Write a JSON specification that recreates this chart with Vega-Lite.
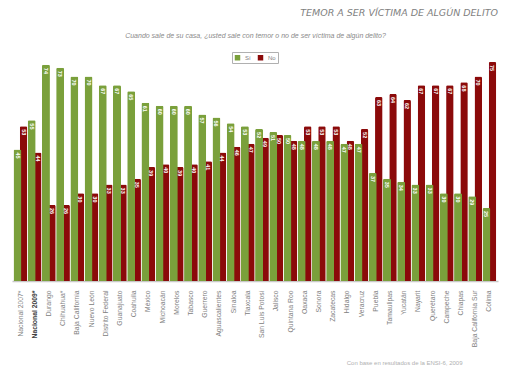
{
  "$schema": "https://vega.github.io/schema/vega-lite/v6.json",
  "autosize": {"type": "none"},
  "width": 486,
  "height": 222,
  "padding": {"left": 12, "top": 59, "right": 12, "bottom": 101},
  "background": "white",
  "title": {
    "text": "TEMOR A SER VÍCTIMA DE ALGÚN DELITO",
    "anchor": "end",
    "fontSize": 9.5,
    "fontStyle": "italic",
    "fontWeight": "normal",
    "font": "DejaVu Sans",
    "color": "#7f7f7f",
    "offset": 14
  },
  "config": {
    "view": {"stroke": null},
    "font": "Liberation Sans"
  },
  "data": {
    "values": [
      {"estado": "Nacional 2007*", "serie": "Sí", "valor": 45}, {"estado": "Nacional 2007*", "serie": "No", "valor": 53},
      {"estado": "Nacional 2009*", "serie": "Sí", "valor": 55}, {"estado": "Nacional 2009*", "serie": "No", "valor": 44},
      {"estado": "Durango", "serie": "Sí", "valor": 74}, {"estado": "Durango", "serie": "No", "valor": 26},
      {"estado": "Chihuahua*", "serie": "Sí", "valor": 73}, {"estado": "Chihuahua*", "serie": "No", "valor": 26},
      {"estado": "Baja California", "serie": "Sí", "valor": 70}, {"estado": "Baja California", "serie": "No", "valor": 30},
      {"estado": "Nuevo León", "serie": "Sí", "valor": 70}, {"estado": "Nuevo León", "serie": "No", "valor": 30},
      {"estado": "Distrito Federal", "serie": "Sí", "valor": 67}, {"estado": "Distrito Federal", "serie": "No", "valor": 33},
      {"estado": "Guanajuato", "serie": "Sí", "valor": 67}, {"estado": "Guanajuato", "serie": "No", "valor": 33},
      {"estado": "Coahuila", "serie": "Sí", "valor": 65}, {"estado": "Coahuila", "serie": "No", "valor": 35},
      {"estado": "México", "serie": "Sí", "valor": 61}, {"estado": "México", "serie": "No", "valor": 39},
      {"estado": "Michoacán", "serie": "Sí", "valor": 60}, {"estado": "Michoacán", "serie": "No", "valor": 40},
      {"estado": "Morelos", "serie": "Sí", "valor": 60}, {"estado": "Morelos", "serie": "No", "valor": 39},
      {"estado": "Tabasco", "serie": "Sí", "valor": 60}, {"estado": "Tabasco", "serie": "No", "valor": 40},
      {"estado": "Guerrero", "serie": "Sí", "valor": 57}, {"estado": "Guerrero", "serie": "No", "valor": 41},
      {"estado": "Aguascalientes", "serie": "Sí", "valor": 56}, {"estado": "Aguascalientes", "serie": "No", "valor": 44},
      {"estado": "Sinaloa", "serie": "Sí", "valor": 54}, {"estado": "Sinaloa", "serie": "No", "valor": 46},
      {"estado": "Tlaxcala", "serie": "Sí", "valor": 53}, {"estado": "Tlaxcala", "serie": "No", "valor": 47},
      {"estado": "San Luis Potosí", "serie": "Sí", "valor": 52}, {"estado": "San Luis Potosí", "serie": "No", "valor": 49},
      {"estado": "Jalisco", "serie": "Sí", "valor": 51}, {"estado": "Jalisco", "serie": "No", "valor": 50},
      {"estado": "Quintana Roo", "serie": "Sí", "valor": 50}, {"estado": "Quintana Roo", "serie": "No", "valor": 48},
      {"estado": "Oaxaca", "serie": "Sí", "valor": 48}, {"estado": "Oaxaca", "serie": "No", "valor": 53},
      {"estado": "Sonora", "serie": "Sí", "valor": 48}, {"estado": "Sonora", "serie": "No", "valor": 53},
      {"estado": "Zacatecas", "serie": "Sí", "valor": 48}, {"estado": "Zacatecas", "serie": "No", "valor": 53},
      {"estado": "Hidalgo", "serie": "Sí", "valor": 47}, {"estado": "Hidalgo", "serie": "No", "valor": 48},
      {"estado": "Veracruz", "serie": "Sí", "valor": 47}, {"estado": "Veracruz", "serie": "No", "valor": 52},
      {"estado": "Puebla", "serie": "Sí", "valor": 37}, {"estado": "Puebla", "serie": "No", "valor": 63},
      {"estado": "Tamaulipas", "serie": "Sí", "valor": 35}, {"estado": "Tamaulipas", "serie": "No", "valor": 64},
      {"estado": "Yucatán", "serie": "Sí", "valor": 34}, {"estado": "Yucatán", "serie": "No", "valor": 62},
      {"estado": "Nayarit", "serie": "Sí", "valor": 33}, {"estado": "Nayarit", "serie": "No", "valor": 67},
      {"estado": "Querétaro", "serie": "Sí", "valor": 33}, {"estado": "Querétaro", "serie": "No", "valor": 67},
      {"estado": "Campeche", "serie": "Sí", "valor": 30}, {"estado": "Campeche", "serie": "No", "valor": 67},
      {"estado": "Chiapas", "serie": "Sí", "valor": 30}, {"estado": "Chiapas", "serie": "No", "valor": 68},
      {"estado": "Baja California Sur", "serie": "Sí", "valor": 29}, {"estado": "Baja California Sur", "serie": "No", "valor": 70},
      {"estado": "Colima", "serie": "Sí", "valor": 25}, {"estado": "Colima", "serie": "No", "valor": 75}
    ]
  },
  "encoding": {
    "x": {
      "field": "estado",
      "type": "nominal",
      "sort": null,
      "scale": {"paddingInner": 0, "paddingOuter": 0.1},
      "axis": {
        "title": "Con base en resultados de la ENSI-6, 2009",
        "titleFontSize": 6,
        "titleFontWeight": "normal",
        "titleColor": "#b0b0b0",
        "titleAlign": "right",
        "titleX": 450,
        "titleY": 78,
        "labelAngle": -90,
        "labelFontSize": 6.8,
        "labelColor": {"condition": {"test": "datum.value == 'Nacional 2009*'", "value": "#404040"}, "value": "#808080"},
        "labelFontWeight": {"condition": {"test": "datum.value == 'Nacional 2009*'", "value": "bold"}, "value": "normal"},
        "labelPadding": 9,
        "ticks": false,
        "domainColor": "#c8c8c8",
        "domainWidth": 1.5
      }
    },
    "y": {
      "field": "valor",
      "type": "quantitative",
      "scale": {"domain": [0, 76], "nice": false},
      "axis": {
        "title": "Cuando sale de su casa, ¿usted sale con temor o no de ser víctima de algún delito?",
        "titleAngle": 0,
        "titleAlign": "center",
        "titleBaseline": "middle",
        "titleX": 243,
        "titleY": -24,
        "titleFontSize": 7,
        "titleFontWeight": "normal",
        "titleFontStyle": "italic",
        "titleColor": "#8a8a8a",
        "labels": false,
        "ticks": false,
        "grid": false,
        "domain": false
      }
    },
    "color": {
      "field": "serie",
      "type": "nominal",
      "scale": {"domain": ["Sí", "No"], "range": ["#7AA03B", "#8B0A0A"]},
      "legend": {
        "orient": "none",
        "legendX": 220,
        "legendY": -7,
        "direction": "horizontal",
        "title": null,
        "symbolType": "square",
        "symbolSize": 30,
        "labelFontSize": 6,
        "labelColor": "#7f7f7f",
        "strokeColor": "#b0b0b0",
        "padding": 2,
        "columnPadding": 6
      }
    }
  },
  "layer": [
    {
      "transform": [{"filter": "datum.serie == 'No'"}],
      "mark": {"type": "bar", "width": 7.5, "xOffset": 3, "cornerRadiusTopLeft": 1.5, "cornerRadiusTopRight": 1.5}
    },
    {
      "transform": [{"filter": "datum.serie == 'Sí'"}],
      "mark": {"type": "bar", "width": 8, "xOffset": -3, "cornerRadiusTopLeft": 1.5, "cornerRadiusTopRight": 1.5}
    },
    {
      "transform": [{"filter": "datum.serie == 'No'"}],
      "mark": {"type": "text", "xOffset": 3, "angle": 90, "align": "left", "baseline": "middle", "dx": 3, "fontSize": 5.5, "fontWeight": "bold", "color": "white"},
      "encoding": {"text": {"field": "valor", "type": "quantitative"}, "color": {"value": "white"}}
    },
    {
      "transform": [{"filter": "datum.serie == 'Sí'"}],
      "mark": {"type": "text", "xOffset": -3, "angle": 90, "align": "left", "baseline": "middle", "dx": 3, "fontSize": 5.5, "fontWeight": "bold", "color": "white"},
      "encoding": {"text": {"field": "valor", "type": "quantitative"}, "color": {"value": "white"}}
    }
  ]
}
